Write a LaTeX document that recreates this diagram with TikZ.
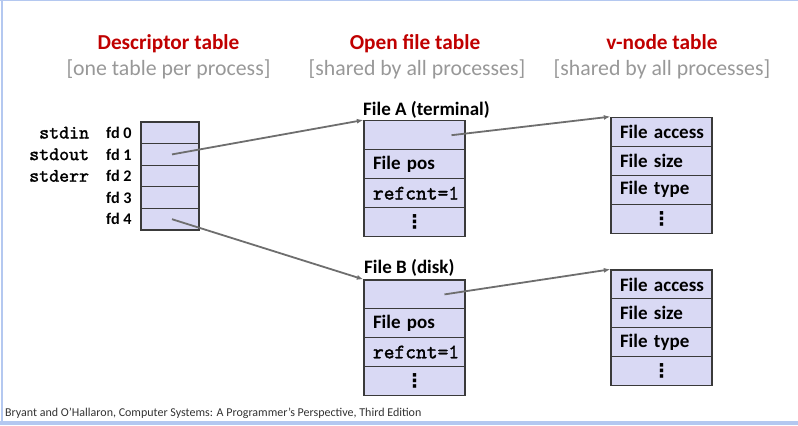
\documentclass[tikz,border=0pt]{standalone}
\usepackage{fontspec}
\setmainfont{Carlito}
\newfontfamily\symfont{DejaVu Sans}
\newfontfamily\codefont[FakeBold=1.6]{lmmono10-regular.otf}
\usetikzlibrary{arrows.meta}

\definecolor{hdred}{RGB}{192,0,0}
\definecolor{hdgray}{RGB}{152,152,152}
\definecolor{cellfill}{RGB}{217,217,244}
\definecolor{cellline}{RGB}{58,58,58}
\definecolor{ptrgray}{RGB}{110,110,110}
\definecolor{frameblue}{RGB}{180,200,240}
\definecolor{credit}{RGB}{50,50,50}

% vertical ellipsis for "more entries"
\newcommand\moredots{{\symfont\bfseries ⋮}}

\begin{document}
\begin{tikzpicture}[x=1bp,y=-1bp,
  heading/.style={anchor=base, text=hdred, font=\fontsize{21.3bp}{24bp}\selectfont\bfseries},
  subheading/.style={anchor=base, text=hdgray, font=\fontsize{21.8bp}{24bp}\selectfont},
  fdcell/.style={draw=cellline, line width=1.3bp, fill=cellfill, rectangle,
    minimum width=58bp, minimum height=21.6bp, inner sep=0pt},
  entry/.style={draw=cellline, line width=1.3bp, fill=cellfill, rectangle,
    minimum height=#1, text width=83bp, inner xsep=9bp, inner ysep=0pt,
    align=left, font=\fontsize{19bp}{21bp}\selectfont\bfseries},
  entry/.default=29bp,
  monoentry/.style={font=\fontsize{20.5bp}{21bp}\selectfont\codefont},
  stream/.style={anchor=base east, inner sep=0pt, font=\fontsize{19bp}{19bp}\selectfont\codefont},
  fdlabel/.style={anchor=base west, inner sep=0pt, font=\fontsize{16.2bp}{19bp}\selectfont\bfseries},
  tabletitle/.style={anchor=base west, inner sep=0pt, font=\fontsize{19bp}{21bp}\selectfont\bfseries},
  ptr/.style={draw=ptrgray, line width=1.8bp, -{Latex[length=6.5bp,width=5bp]}}]

\useasboundingbox (0,0) rectangle (798,425);

% slide frame
\fill[frameblue] (0,0) rectangle (798,1.2);
\fill[frameblue] (1.2,0) rectangle (2.8,421);
\fill[frameblue] (0,421) rectangle (798,425);

% column headings
\node[heading] (h1) at (168.5,49.5) {Descriptor table};
\node[subheading] (s1) at (168.5,75) {[one table per process]};
\node[heading] (h2) at (415,49.5) {Open file table};
\node[subheading] (s2) at (417,75) {[shared by all processes]};
\node[heading] (h3) at (662,49.5) {v-node table};
\node[subheading] (s3) at (662,75) {[shared by all processes]};

% descriptor table
\node[fdcell] (d0) at (170,132.8) {};
\node[fdcell] (d1) at (170,154.4) {};
\node[fdcell] (d2) at (170,176.0) {};
\node[fdcell] (d3) at (170,197.6) {};
\node[fdcell] (d4) at (170,219.2) {};

\node[stream] (in)  at (89.3,138.5) {stdin};
\node[stream] (out) at (89.3,160.1) {stdout};
\node[stream] (err) at (89.3,181.7) {stderr};
\node[fdlabel] (f0) at (106,138.5) {fd 0};
\node[fdlabel] (f1) at (106,160.1) {fd 1};
\node[fdlabel] (f2) at (106,181.7) {fd 2};
\node[fdlabel] (f3) at (106,203.3) {fd 3};
\node[fdlabel] (f4) at (106,224.9) {fd 4};

% open file table, file A
\node[tabletitle] (ta) at (363,115) {File A (terminal)};
\node[entry] (fa0) at (414.5,135.2) {};
\node[entry] (fa1) at (414.5,164.2) {File pos};
\node[entry,monoentry] (fa2) at (414.5,193.2) {refcnt=1};
\node[entry,align=center] (fa3) at (414.5,222.2) {\moredots};

% open file table, file B
\node[tabletitle] (tb) at (364,273.3) {File B (disk)};
\node[entry=28.8bp] (fb0) at (414.5,294.4) {};
\node[entry=28.8bp] (fb1) at (414.5,323.2) {File pos};
\node[entry=28.8bp,monoentry] (fb2) at (414.5,352.0) {refcnt=1};
\node[entry=28.8bp,align=center] (fb3) at (414.5,380.8) {\moredots};

% v-node table for file A
\node[entry] (va0) at (661.5,131.8) {\mbox{File access}};
\node[entry] (va1) at (661.5,160.8) {File size};
\node[entry] (va2) at (661.5,189.8) {File type};
\node[entry,align=center] (va3) at (661.5,218.8) {\moredots};

% v-node table for file B
\node[entry=28.8bp] (vb0) at (661.5,284.4) {\mbox{File access}};
\node[entry=28.8bp] (vb1) at (661.5,313.2) {File size};
\node[entry=28.8bp] (vb2) at (661.5,342.0) {File type};
\node[entry=28.8bp,align=center] (vb3) at (661.5,370.8) {\moredots};

% pointers
\draw[ptr] ([xshift=2bp]d1.center) -- (fa0.north west);
\draw[ptr] ([xshift=2bp]d4.center) -- (fb0.north west);
\draw[ptr] ([xshift=37bp]fa0.center) -- (va0.north west);
\draw[ptr] ([xshift=30bp]fb0.center) -- (vb0.north west);

% source line
\node[anchor=base west, text=credit, font=\fontsize{12bp}{13bp}\selectfont, inner sep=0pt] (src) at (5,416.5)
  {Bryant and O’Hallaron, Computer Systems: A Programmer’s Perspective, Third Edition};

\end{tikzpicture}
\end{document}
